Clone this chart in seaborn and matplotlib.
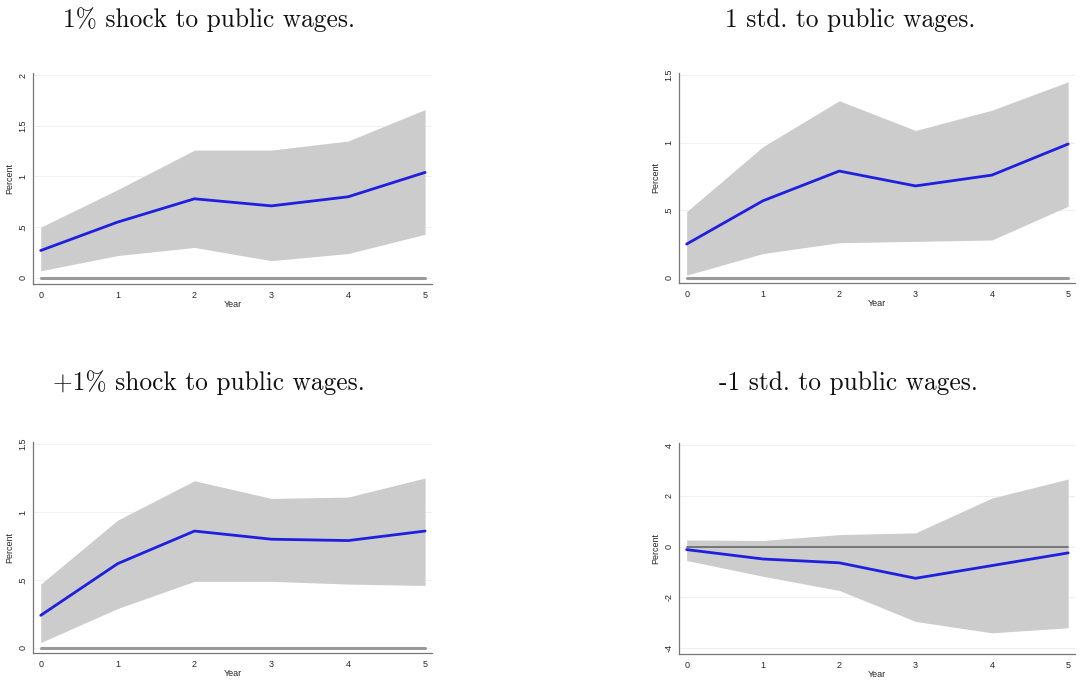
import numpy as np
import pandas as pd
import seaborn as sns
import matplotlib.pyplot as plt

# impulse responses, years 0-5
years = [0, 1, 2, 3, 4, 5]

# 1% shock to public wages
irf_pct = [0.27, 0.55, 0.78, 0.71, 0.80, 1.04]
hi_pct = [0.50, 0.87, 1.26, 1.26, 1.35, 1.66]
lo_pct = [0.07, 0.22, 0.30, 0.17, 0.24, 0.43]

# 1 std. to public wages
irf_std = [0.25, 0.57, 0.79, 0.68, 0.76, 0.99]
hi_std = [0.49, 0.97, 1.31, 1.09, 1.24, 1.45]
lo_std = [0.02, 0.18, 0.26, 0.27, 0.28, 0.53]

# +1% shock to public wages
irf_pos = [0.24, 0.62, 0.86, 0.80, 0.79, 0.86]
hi_pos = [0.47, 0.94, 1.23, 1.10, 1.11, 1.25]
lo_pos = [0.04, 0.29, 0.49, 0.49, 0.47, 0.46]

# -1 std. to public wages
irf_neg = [-0.12, -0.49, -0.64, -1.25, -0.75, -0.25]
hi_neg = [0.26, 0.24, 0.47, 0.54, 1.91, 2.66]
lo_neg = [-0.55, -1.17, -1.73, -2.95, -3.40, -3.20]

titles = ['1% shock to public wages.', '1 std. to public wages.',
          '+1% shock to public wages.', '-1 std. to public wages.']

sns.set_style('white')
plt.rcParams['font.family'] = ['Liberation Sans', 'DejaVu Sans']

fig = plt.figure(figsize=(10.8, 6.8), dpi=100)

panels = [
    (irf_pct, lo_pct, hi_pct, [0.0306, 0.5824, 0.3694, 0.3102], (-0.06, 2.02), [0, 0.5, 1, 1.5, 2], ['0', '.5', '1', '1.5', '2']),
    (irf_std, lo_std, hi_std, [0.6287, 0.5840, 0.3667, 0.3086], (-0.037, 1.515), [0, 0.5, 1, 1.5], ['0', '.5', '1', '1.5']),
    (irf_pos, lo_pos, hi_pos, [0.0306, 0.0397, 0.3694, 0.3103], (-0.037, 1.515), [0, 0.5, 1, 1.5], ['0', '.5', '1', '1.5']),
    (irf_neg, lo_neg, hi_neg, [0.6287, 0.0380, 0.3667, 0.3105], (-4.24, 4.08), [-4, -2, 0, 2, 4], ['-4', '-2', '0', '2', '4']),
]

for i, (irf, lo, hi, pos, ylim, yt, ytl) in enumerate(panels):
    ax = fig.add_axes(pos)
    df = pd.DataFrame({'Year': years, 'Percent': irf})
    for t in yt:
        ax.axhline(t, color='#f0f0f0', lw=0.8, zorder=0)
    ax.fill_between(years, lo, hi, color='#cccccc', lw=0, zorder=1)
    if i == 3:
        ax.plot([0, 5], [0, 0], color='#6e6e6e', lw=1.3, zorder=2)
    else:
        ax.plot([0, 5], [0, 0], color='#9a9a9a', lw=2.2, zorder=2)
    sns.lineplot(data=df, x='Year', y='Percent', color='#1f1fe0', lw=2.0, ax=ax, zorder=3)
    ax.set_xlim(-0.1, 5.09)
    ax.set_ylim(*ylim)
    ax.set_xticks(years)
    ax.set_yticks(yt)
    ax.set_yticklabels(ytl, rotation=90, va='center')
    ax.tick_params(axis='both', labelsize=6.5, length=3, width=0.8, color='#555555', pad=2, direction='out')
    ax.tick_params(axis='y', pad=1)
    ax.set_xlabel('Year', fontsize=6.5, labelpad=0)
    ax.set_ylabel('Percent', fontsize=6.5, labelpad=3)
    for s in ['top', 'right']:
        ax.spines[s].set_visible(False)
    for s in ['left', 'bottom']:
        ax.spines[s].set_color('#777777')
        ax.spines[s].set_linewidth(0.9)

fig.text(0.1935, 0.971, titles[0], ha='center', va='center', family='cmr10', fontsize=18.3, color='#111111')
fig.text(0.787, 0.971, titles[1], ha='center', va='center', family='cmr10', fontsize=18.3, color='#111111')
fig.text(0.1935, 0.437, titles[2], ha='center', va='center', family='cmr10', fontsize=18.3, color='#111111')
fig.text(0.786, 0.437, titles[3], ha='center', va='center', family='cmr10', fontsize=18.3, color='#111111')

plt.savefig('out.png', dpi=100)
